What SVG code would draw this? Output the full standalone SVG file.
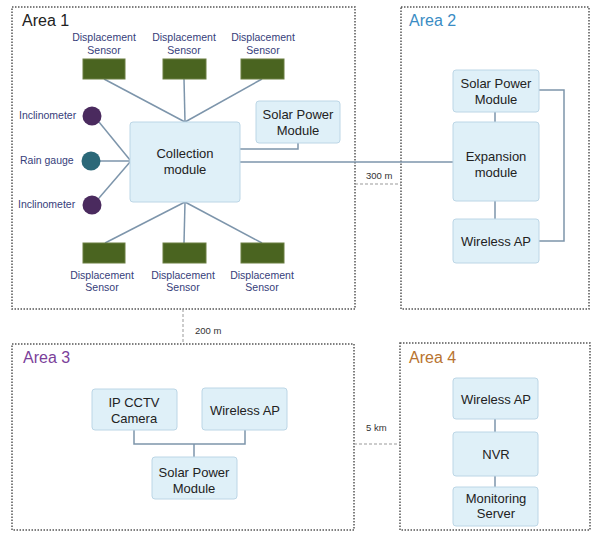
<svg xmlns="http://www.w3.org/2000/svg" width="592" height="536" viewBox="0 0 592 536">
<style>
.area{fill:none;stroke:#555;stroke-width:1.5;stroke-dasharray:1.5 1.5}
.dist{fill:none;stroke:#999;stroke-width:1;stroke-dasharray:3 2}
.box{fill:#dff0f8;stroke:#bcd6e6;stroke-width:1}
.sensor{fill:#4a6420;stroke:#6a7e40;stroke-width:1}
.con{fill:none;stroke:#7d95ab;stroke-width:1.5}
text{font-family:"Liberation Sans",Arial,sans-serif}
.t{font-size:13px;fill:#222;text-anchor:middle}
.s{font-size:10.5px;fill:#36407a;text-anchor:middle}
.l{font-size:10.5px;fill:#36407a}
.d{font-size:9.5px;fill:#333}
.h{font-size:16px}
</style>
<rect x="0" y="0" width="592" height="536" fill="#fff"/>
<g id="areas">
<rect class="area" x="12" y="7" width="343" height="302"/>
<rect class="area" x="401" y="7" width="188" height="302"/>
<rect class="area" x="12" y="344" width="342" height="186"/>
<rect class="area" x="400" y="343" width="190" height="187"/>
<text class="h" x="22" y="26" fill="#222">Area 1</text>
<text class="h" x="409" y="26" fill="#3a8cc4">Area 2</text>
<text class="h" x="23" y="363" fill="#7b3f9a">Area 3</text>
<text class="h" x="409" y="363" fill="#b8732f">Area 4</text>
</g>
<g id="connectors">
<line class="con" x1="104" y1="79" x2="185" y2="122"/>
<line class="con" x1="184" y1="79" x2="185" y2="122"/>
<line class="con" x1="262" y1="79" x2="185" y2="122"/>
<line class="con" x1="105" y1="243" x2="185" y2="202"/>
<line class="con" x1="184" y1="243" x2="185" y2="202"/>
<line class="con" x1="262" y1="243" x2="185" y2="202"/>
<line class="con" x1="99" y1="122" x2="130" y2="160"/>
<line class="con" x1="100" y1="161" x2="130" y2="161"/>
<line class="con" x1="99" y1="198" x2="130" y2="162"/>
<polyline class="con" points="298,143 298,149 240,149"/>
<line class="con" x1="240" y1="162" x2="453" y2="162"/>
<line class="con" x1="495" y1="112" x2="495" y2="122"/>
<line class="con" x1="495" y1="201" x2="495" y2="219"/>
<polyline class="con" points="539,90 564,90 564,241 539,241"/>
<polyline class="con" points="134,430 134,444 245,444 245,430"/>
<line class="con" x1="194" y1="444" x2="194" y2="457"/>
<line class="con" x1="495" y1="419" x2="495" y2="432"/>
<line class="con" x1="495" y1="476" x2="495" y2="487"/>
<line class="dist" x1="355" y1="184" x2="401" y2="184"/>
<line class="dist" x1="183" y1="309" x2="183" y2="344"/>
<line class="dist" x1="354" y1="444" x2="400" y2="444"/>
<text class="d" x="366" y="179">300 m</text>
<text class="d" x="195" y="334">200 m</text>
<text class="d" x="366" y="431">5 km</text>
</g>
<g id="sensor-top-1"><text class="s" x="104" y="41">Displacement</text><text class="s" x="104" y="54">Sensor</text><rect class="sensor" x="83" y="59" width="42" height="20"/></g>
<g id="sensor-top-2"><text class="s" x="184" y="41">Displacement</text><text class="s" x="184" y="54">Sensor</text><rect class="sensor" x="163" y="59" width="43" height="20"/></g>
<g id="sensor-top-3"><text class="s" x="263" y="41">Displacement</text><text class="s" x="263" y="54">Sensor</text><rect class="sensor" x="241" y="59" width="43" height="20"/></g>
<g id="sensor-bot-1"><rect class="sensor" x="83" y="243" width="42" height="20"/><text class="s" x="102" y="279">Displacement</text><text class="s" x="102" y="291">Sensor</text></g>
<g id="sensor-bot-2"><rect class="sensor" x="163" y="243" width="43" height="20"/><text class="s" x="183" y="279">Displacement</text><text class="s" x="183" y="291">Sensor</text></g>
<g id="sensor-bot-3"><rect class="sensor" x="241" y="243" width="43" height="20"/><text class="s" x="262" y="279">Displacement</text><text class="s" x="262" y="291">Sensor</text></g>
<g id="inclinometer-1"><text class="l" x="19" y="119">Inclinometer</text><circle cx="92" cy="116" r="9.5" fill="#4a2a5e"/></g>
<g id="rain-gauge"><text class="l" x="20" y="164">Rain gauge</text><circle cx="91" cy="161" r="9.5" fill="#2b6878"/></g>
<g id="inclinometer-2"><text class="l" x="18" y="208">Inclinometer</text><circle cx="92" cy="205" r="9.5" fill="#4a2a5e"/></g>
<g id="collection-module"><rect class="box" x="130" y="122" width="110" height="80" rx="3"/><text class="t" x="185" y="158">Collection</text><text class="t" x="185" y="174">module</text></g>
<g id="a1-solar"><rect class="box" x="256" y="101" width="84" height="42" rx="3"/><text class="t" x="298" y="119">Solar Power</text><text class="t" x="298" y="135">Module</text></g>
<g id="a2-solar"><rect class="box" x="453" y="70" width="86" height="42" rx="3"/><text class="t" x="496" y="88">Solar Power</text><text class="t" x="496" y="104">Module</text></g>
<g id="a2-expansion"><rect class="box" x="453" y="122" width="86" height="79" rx="3"/><text class="t" x="496" y="161">Expansion</text><text class="t" x="496" y="177">module</text></g>
<g id="a2-wireless"><rect class="box" x="453" y="219" width="86" height="44" rx="3"/><text class="t" x="496" y="246">Wireless AP</text></g>
<g id="a3-cctv"><rect class="box" x="92" y="389" width="85" height="41" rx="3"/><text class="t" x="134" y="407">IP CCTV</text><text class="t" x="134" y="423">Camera</text></g>
<g id="a3-wireless"><rect class="box" x="202" y="388" width="85" height="42" rx="3"/><text class="t" x="245" y="415">Wireless AP</text></g>
<g id="a3-solar"><rect class="box" x="152" y="457" width="85" height="42" rx="3"/><text class="t" x="194" y="477">Solar Power</text><text class="t" x="194" y="493">Module</text></g>
<g id="a4-wireless"><rect class="box" x="453" y="378" width="85" height="41" rx="3"/><text class="t" x="496" y="404">Wireless AP</text></g>
<g id="a4-nvr"><rect class="box" x="453" y="432" width="85" height="44" rx="3"/><text class="t" x="496" y="459">NVR</text></g>
<g id="a4-server"><rect class="box" x="453" y="487" width="85" height="39" rx="3"/><text class="t" x="496" y="503">Monitoring</text><text class="t" x="496" y="518">Server</text></g>
</svg>
